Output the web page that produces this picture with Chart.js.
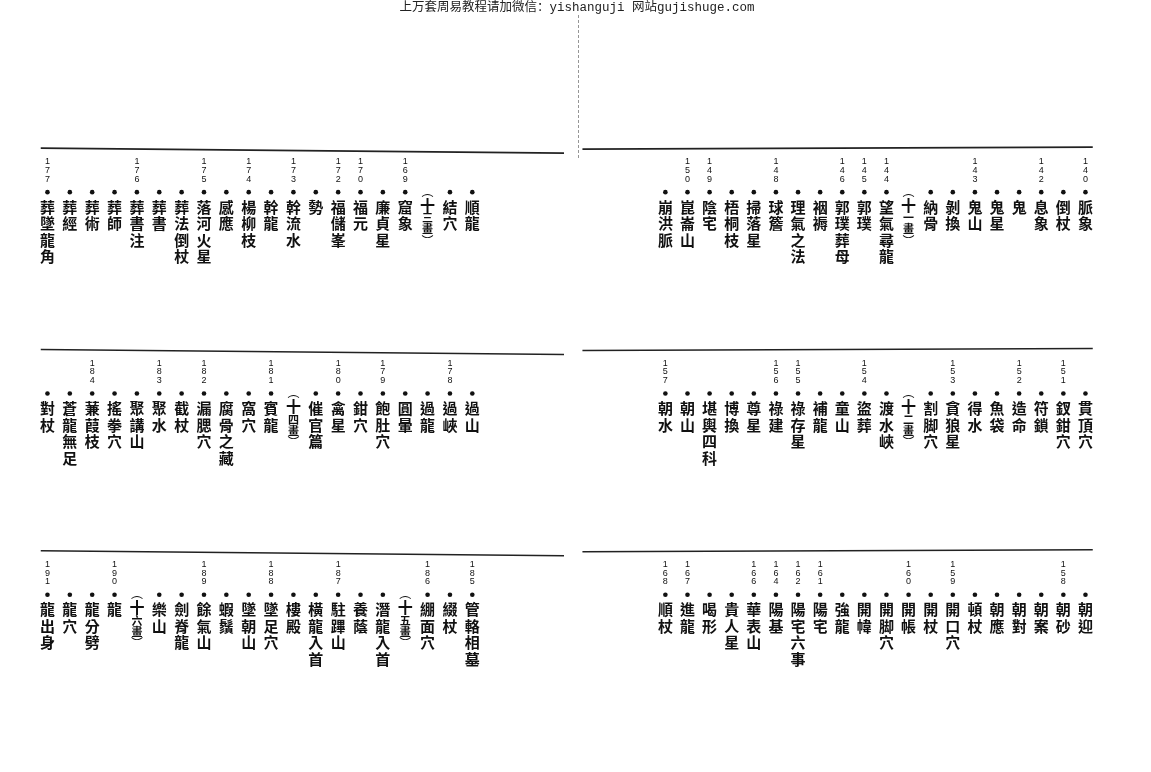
<!DOCTYPE html>
<html>
<head>
<meta charset="utf-8">
<script src="https://cdn.jsdelivr.net/npm/chart.js@4.4.1/dist/chart.umd.min.js"></script>
<style>
html, body { margin: 0; padding: 0; background: #fff; overflow: hidden; }
canvas { display: block; }
</style>
</head>
<body>
<canvas id="myChart" width="1151" height="772"></canvas>
<script>
// index entries, read right to left in each band (index 0 = rightmost column)
var rightTopLabels = ['脈象', '倒杖', '息象', '鬼', '鬼星', '鬼山', '剝換', '納骨', '(十一畫)', '望氣尋龍', '郭璞', '郭璞葬母', '裀褥', '理氣之法', '球簷', '掃落星', '梧桐枝', '陰宅', '崑崙山', '崩洪脈'];
var rightTopPages = ['140', '', '142', '', '', '143', '', '', '', '144', '145', '146', '', '', '148', '', '', '149', '150', ''];

var rightMidLabels = ['貫頂穴', '釵鉗穴', '符鎖', '造命', '魚袋', '得水', '貪狼星', '割脚穴', '(十二畫)', '渡水峽', '盜葬', '童山', '補龍', '祿存星', '祿建', '尊星', '博換', '堪輿四科', '朝山', '朝水'];
var rightMidPages = ['', '151', '', '152', '', '', '153', '', '', '', '154', '', '', '155', '156', '', '', '', '', '157'];

var rightBotLabels = ['朝迎', '朝砂', '朝案', '朝對', '朝應', '頓杖', '開口穴', '開杖', '開帳', '開脚穴', '開幃', '強龍', '陽宅', '陽宅六事', '陽基', '華表山', '貴人星', '喝形', '進龍', '順杖'];
var rightBotPages = ['', '158', '', '', '', '', '159', '', '160', '', '', '', '161', '162', '164', '166', '', '', '167', '168'];

var leftTopLabels = ['順龍', '結穴', '(十三畫)', '窟象', '廉貞星', '福元', '福儲峯', '勢', '幹流水', '幹龍', '楊柳枝', '感應', '落河火星', '葬法倒杖', '葬書', '葬書注', '葬師', '葬術', '葬經', '葬墜龍角'];
var leftTopPages = ['', '', '', '169', '', '170', '172', '', '173', '', '174', '', '175', '', '', '176', '', '', '', '177'];

var leftMidLabels = ['過山', '過峽', '過龍', '圓暈', '飽肚穴', '鉗穴', '禽星', '催官篇', '(十四畫)', '賓龍', '窩穴', '腐骨之藏', '漏腮穴', '截杖', '聚水', '聚講山', '搖拳穴', '蒹葭枝', '蒼龍無足', '對杖'];
var leftMidPages = ['', '178', '', '', '179', '', '180', '', '', '181', '', '', '182', '', '183', '', '', '184', '', ''];

var leftBotLabels = ['管輅相墓', '綴杖', '綳面穴', '(十五畫)', '潛龍入首', '養蔭', '駐蹕山', '橫龍入首', '樓殿', '墜足穴', '墜朝山', '蝦鬚', '餘氣山', '劍脊龍', '樂山', '(十六畫)', '龍', '龍分劈', '龍穴', '龍出身'];
var leftBotPages = ['185', '', '186', '', '', '', '187', '', '', '188', '', '', '189', '', '', '', '190', '', '', '191'];

var headerText = '上万套周易教程请加微信：yishanguji 网站gujishuge.com';

var CJK = '"Noto Sans CJK TC", "Noto Sans CJK SC", sans-serif';

function band(labels, pages, row, axis) {
    return {
        labels: labels,
        pages: pages,
        xAxisID: axis,
        data: labels.map(function (l, i) { return { x: i, y: row }; }),
        backgroundColor: '#111',
        borderWidth: 0,
        pointRadius: function (c) {
            var l = labels[c.dataIndex];
            return l && l.charAt(0) === '(' ? 0 : 2.3;
        },
        pointHoverRadius: 0
    };
}

// draws the vertical text of each entry around its bullet, plus rules and header
var pageText = {
    id: 'pageText',
    beforeDraw: function (chart) {
        var ctx = chart.ctx;
        ctx.save();
        ctx.fillStyle = '#fff';
        ctx.fillRect(0, 0, chart.width, chart.height);
        ctx.fillStyle = '#222';
        ctx.font = '12.5px "Liberation Mono", "Noto Sans CJK SC", monospace';
        ctx.textAlign = 'center';
        ctx.textBaseline = 'middle';
        ctx.fillText(headerText, 577, 8);
        // page fold
        ctx.strokeStyle = 'rgba(80,80,80,0.6)';
        ctx.lineWidth = 1;
        ctx.setLineDash([3, 2]);
        ctx.beginPath();
        ctx.moveTo(578.5, 15);
        ctx.lineTo(578.5, 160);
        ctx.stroke();
        ctx.restore();
    },
    afterDatasetsDraw: function (chart) {
        var ctx = chart.ctx;
        var ys = chart.scales.y;
        ctx.save();
        chart.data.datasets.forEach(function (ds, i) {
            var meta = chart.getDatasetMeta(i);
            var xs = chart.scales[ds.xAxisID];
            var rowY = ys.getPixelForValue(ds.data[0].y);

            // rule above the band
            var ends = ds.xAxisID === 'xL' ? [19.3, -4.1] : [22.75, -0.33];
            var tilt = ds.xAxisID === 'xL' ? [-44, -39] : [-43, -45];
            ctx.strokeStyle = '#222';
            ctx.lineWidth = 1.6;
            ctx.beginPath();
            ctx.moveTo(xs.getPixelForValue(ends[0]), rowY + tilt[0]);
            ctx.lineTo(xs.getPixelForValue(ends[1]), rowY + tilt[1]);
            ctx.stroke();

            meta.data.forEach(function (pt, j) {
                var label = ds.labels[j];
                var page = ds.pages[j];
                var x = pt.x, y = pt.y;
                ctx.fillStyle = '#111';
                ctx.textAlign = 'center';
                ctx.textBaseline = 'middle';

                if (page) {
                    ctx.font = '9px "Liberation Sans", Arial, sans-serif';
                    for (var k = 0; k < page.length; k++) {
                        ctx.fillText(page.charAt(k), x, y - 13 - (page.length - 1 - k) * 8.6);
                    }
                }

                if (label.charAt(0) === '(') {
                    // stroke-count heading, e.g. (十三畫)
                    var inner = label.slice(1, -1);
                    ctx.font = '12px ' + CJK;
                    ctx.fillText('︵', x, y - 1);
                    ctx.font = 'bold 15px ' + CJK;
                    ctx.fillText(inner.charAt(0), x, y + 13);
                    ctx.font = 'bold 11px ' + CJK;
                    var yy = y + 26;
                    for (var m = 1; m < inner.length; m++) {
                        ctx.fillText(inner.charAt(m), x, yy);
                        yy += 11;
                    }
                    ctx.font = '12px ' + CJK;
                    ctx.fillText('︶', x, yy + 1);
                } else {
                    ctx.font = 'bold 15px ' + CJK;
                    for (var n = 0; n < label.length; n++) {
                        ctx.fillText(label.charAt(n), x, y + 15 + n * 16.5);
                    }
                }
            });
        });
        ctx.restore();
    }
};

var ctx = document.getElementById('myChart').getContext('2d');
var chart = new Chart(ctx, {
    type: 'scatter',
    data: {
        datasets: [
            band(rightTopLabels, rightTopPages, 0, 'xR'),
            band(rightMidLabels, rightMidPages, 1, 'xR'),
            band(rightBotLabels, rightBotPages, 2, 'xR'),
            band(leftTopLabels, leftTopPages, 0, 'xL'),
            band(leftMidLabels, leftMidPages, 1, 'xL'),
            band(leftBotLabels, leftBotPages, 2, 'xL')
        ]
    },
    options: {
        responsive: false,
        animation: false,
        events: [],
        layout: { padding: 0 },
        plugins: {
            legend: { display: false },
            tooltip: { enabled: false }
        },
        scales: {
            xR: { type: 'linear', display: false, reverse: true, min: -2.86, max: 48.99 },
            xL: { type: 'linear', display: false, reverse: true, min: -30.25, max: 21.02 },
            y: { type: 'linear', display: false, reverse: true, min: -0.9432, max: 2.8691 }
        }
    },
    plugins: [pageText]
});
</script>
</body>
</html>
